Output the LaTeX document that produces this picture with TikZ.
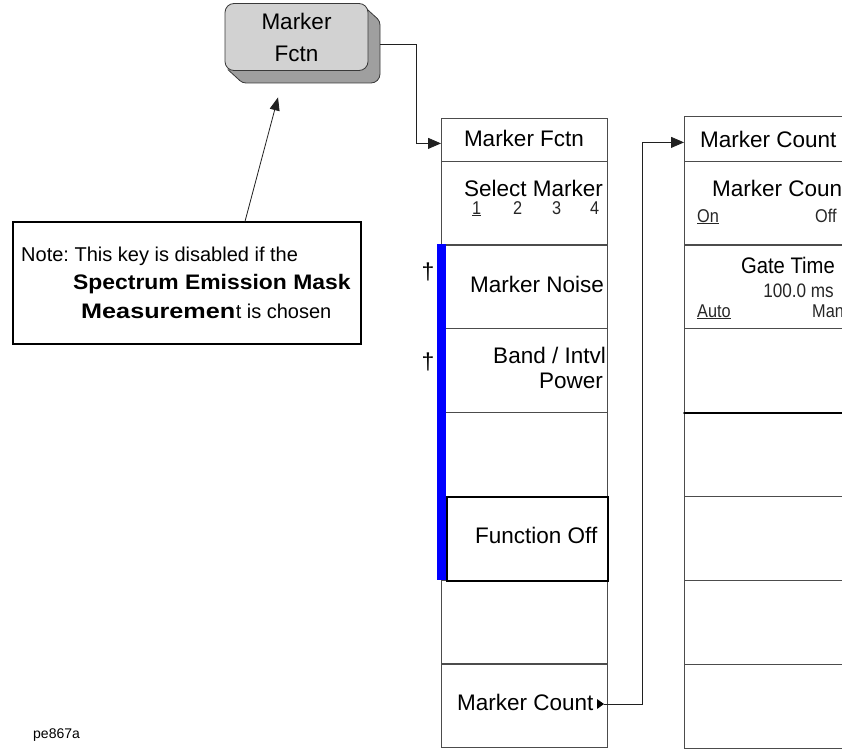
\documentclass[tikz,border=0pt]{standalone}
\usepackage{fontspec}
\setmainfont{Liberation Sans}
\usepackage{tikz}
\usetikzlibrary{arrows.meta}

\begin{document}
\begin{tikzpicture}[x=1pt,y=-1pt,>={Triangle[length=13pt,width=11pt]},line cap=round,
  keyface/.style={rounded corners=9pt,fill=gray!35,draw=gray!45!black,line width=0.8pt,minimum width=143pt,minimum height=67pt,inner sep=0pt,align=center,font=\fontsize{22.5}{32}\selectfont},
  keyback/.style={rounded corners=9pt,fill=gray!75,draw=gray!45!black,line width=0.8pt,minimum width=143pt,minimum height=67pt,inner sep=0pt},
  softkey/.style={draw=gray!60!black,line width=0.8pt,anchor=north west,minimum width=166pt,minimum height=84pt,inner sep=0pt},
  widekey/.style={softkey,minimum width=200pt},
  keytxt/.style={font=\fontsize{22.5}{26}\selectfont,inner sep=0pt},
  subtxt/.style={font=\fontsize{18.5}{20}\selectfont,inner sep=0pt,xscale=0.88,anchor=base west,text=black!85},
  link/.style={draw=gray!25!black,line width=0.8pt},
  notetxt/.style={font=\fontsize{20}{24}\selectfont,inner sep=0pt,anchor=base west}]
\useasboundingbox (0,0) rectangle (842,749);
% front panel key
\node[keyback] (keyback) at (308.5,49.5) {};
\fill[gray!75] (365.1,7.4) -- (377.1,18.4) -- (239.9,80.6) -- (227.9,69.6) -- cycle;
\draw[gray!45!black,line width=0.8pt] (365.1,7.4) -- (377.1,18.4);
\draw[gray!45!black,line width=0.8pt] (227.9,69.6) -- (239.9,80.6);
\node[keyface] (key) at (296.5,37) {Marker\\Fctn};
% marker fctn menu
\node[softkey,minimum height=43pt] (mfhead) at (441,118) {};
\node[softkey] (mfsel) at (441,161) {};
\node[softkey] (mfnoise) at (441,244) {};
\node[softkey] (mfband) at (441,328) {};
\node[softkey] (mfblank) at (441,412) {};
\node[softkey] (mfblank2) at (441,580) {};
\node[softkey] (mfcount) at (441,663) {};
\fill[blue] (437,244) rectangle (446,580);
\node[softkey,draw=black,line width=2.4pt,minimum width=161pt] (mfoff) at (446,496) {};
\node[keytxt,anchor=base] (mftitle) at (524,146) {Marker Fctn};
\node[keytxt,anchor=base east] (seltxt) at (603,196) {Select Marker};
\node[subtxt] (sel1) at (472,214) {\underline{1}};
\node[subtxt] (sel2) at (513,214) {2};
\node[subtxt] (sel3) at (552,214) {3};
\node[subtxt] (sel4) at (590,214) {4};
\node[keytxt,anchor=base west] (noisetxt) at (470,292) {Marker Noise};
\node[keytxt,anchor=base east] (bandtxt) at (606,363) {Band / Intvl};
\node[keytxt,anchor=base east] (powertxt) at (603,388) {Power};
\node[keytxt,anchor=base west] (offtxt) at (475,543) {Function Off};
\node[keytxt,anchor=base west] (counttxt) at (457,710) {Marker Count};
\coordinate (mctip) at (604,704);
\fill (597,699) -- (mctip) -- (597,709) -- cycle;
\node[font=\fontsize{23}{24}\selectfont,anchor=base,inner sep=0pt] (dag1) at (428,279) {†};
\node[font=\fontsize{23}{24}\selectfont,anchor=base,inner sep=0pt] (dag2) at (428,369) {†};
% marker count menu
\node[widekey,minimum height=45pt] (mchead) at (684,116) {};
\node[widekey] (mcstate) at (684,161) {};
\node[widekey] (mcgate) at (684,244) {};
\node[widekey] (mcblank1) at (684,328) {};
\node[widekey] (mcblank2) at (684,412) {};
\node[widekey] (mcblank3) at (684,496) {};
\node[widekey] (mcblank4) at (684,580) {};
\node[widekey] (mcblank5) at (684,664) {};
\draw[black,line width=1.6pt] (mcblank1.south west) -- (mcblank1.south east);
\node[keytxt,anchor=base west] (mctitle) at (700,147) {Marker Count};
\node[keytxt,anchor=base west] (mcstatetxt) at (712,196) {Marker Count};
\node[subtxt] (mcon) at (697,222) {\underline{On}};
\node[subtxt] (mcoff) at (815,222) {Off};
\node[keytxt,anchor=base east,xscale=0.9] (gatetxt) at (835,273) {Gate Time};
\node[subtxt,font=\fontsize{19.5}{21}\selectfont,anchor=base east] (gateval) at (834,297) {100.0 ms};
\node[subtxt] (gateauto) at (697,317) {\underline{Auto}};
\node[subtxt] (gateman) at (812,317) {Man};
% note
\node[draw=black,line width=1.2pt,minimum width=348pt,minimum height=122pt,inner sep=0pt] (note) at (187,283) {};
\node[notetxt] (noteline1) at (21,261) {Note:\ This key is disabled if the};
\node[notetxt,font=\fontsize{21}{24}\selectfont\bfseries,xscale=1.09] (noteline2) at (73,289) {Spectrum Emission Mask};
\node[notetxt,font=\fontsize{21}{24}\selectfont\bfseries,xscale=1.2] (noteline3) at (81,318) {Measuremen};
\node[notetxt] (noteline3b) at (noteline3.base east) {t is chosen};
\node[font=\fontsize{14}{16}\selectfont,anchor=base west,inner sep=0pt] (figid) at (33,738) {pe867a};
% connectors
\draw[link,->] ([yshift=5pt]keyback.east) -- ++(36,0) |- ([yshift=-3.5pt]mfhead.west);
\draw[link,->] (mctip) -- ++(38,0) |- ([yshift=-3.5pt]mchead.west);
\draw[link,-{Triangle[length=13pt,width=10pt]}] ([xshift=58pt]note.north) -- ([xshift=-30.5pt,yshift=-14pt]keyback.south);
\end{tikzpicture}
\end{document}
